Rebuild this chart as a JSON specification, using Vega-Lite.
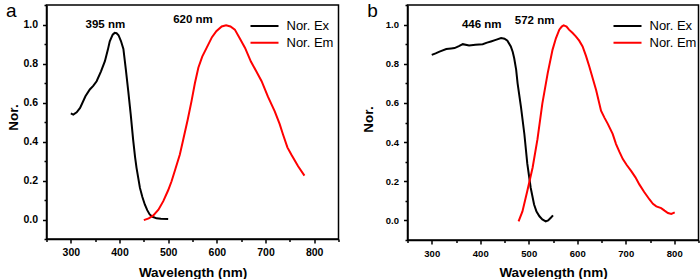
{
  "$schema": "https://vega.github.io/schema/vega-lite/v6.json",
  "padding": {"left": 4.5, "top": -1, "right": 0, "bottom": 0},
  "background": "white",
  "config": {
    "font": "Liberation Sans",
    "view": {"stroke": "black", "strokeWidth": 1.5},
    "axis": {
      "grid": false,
      "domainColor": "black",
      "domainWidth": 1.5,
      "tickColor": "black",
      "tickWidth": 1.5,
      "tickSize": 4,
      "labelOverlap": false,
      "labelColor": "black",
      "labelFont": "Liberation Sans",
      "labelFontWeight": "bold",
      "titleColor": "black",
      "titleFont": "Liberation Sans",
      "titleFontWeight": "bold",
      "titleFontSize": 13.5
    },
    "legend": {
      "title": null,
      "symbolType": "stroke",
      "symbolSize": 784,
      "symbolStrokeWidth": 2,
      "labelFont": "Liberation Sans",
      "labelFontSize": 13,
      "labelColor": "black",
      "labelOffset": 7,
      "clipHeight": 15,
      "rowPadding": 1.7,
      "padding": 0
    }
  },
  "datasets": {
    "a": [
      {"wl": 300, "v": 0.544, "s": "Nor. Ex"}, {"wl": 305, "v": 0.538, "s": "Nor. Ex"}, {"wl": 312, "v": 0.55, "s": "Nor. Ex"},
      {"wl": 319, "v": 0.572, "s": "Nor. Ex"}, {"wl": 330, "v": 0.632, "s": "Nor. Ex"}, {"wl": 339, "v": 0.667, "s": "Nor. Ex"},
      {"wl": 346, "v": 0.685, "s": "Nor. Ex"}, {"wl": 353, "v": 0.709, "s": "Nor. Ex"}, {"wl": 362, "v": 0.76, "s": "Nor. Ex"},
      {"wl": 370, "v": 0.812, "s": "Nor. Ex"}, {"wl": 376, "v": 0.87, "s": "Nor. Ex"}, {"wl": 380, "v": 0.914, "s": "Nor. Ex"},
      {"wl": 386, "v": 0.948, "s": "Nor. Ex"}, {"wl": 390, "v": 0.957, "s": "Nor. Ex"}, {"wl": 394, "v": 0.955, "s": "Nor. Ex"},
      {"wl": 398, "v": 0.945, "s": "Nor. Ex"}, {"wl": 403, "v": 0.915, "s": "Nor. Ex"}, {"wl": 408, "v": 0.875, "s": "Nor. Ex"},
      {"wl": 413, "v": 0.77, "s": "Nor. Ex"}, {"wl": 418, "v": 0.658, "s": "Nor. Ex"}, {"wl": 423, "v": 0.54, "s": "Nor. Ex"},
      {"wl": 428, "v": 0.41, "s": "Nor. Ex"}, {"wl": 432, "v": 0.32, "s": "Nor. Ex"}, {"wl": 435, "v": 0.265, "s": "Nor. Ex"},
      {"wl": 442, "v": 0.162, "s": "Nor. Ex"}, {"wl": 447, "v": 0.115, "s": "Nor. Ex"}, {"wl": 452, "v": 0.077, "s": "Nor. Ex"},
      {"wl": 457, "v": 0.048, "s": "Nor. Ex"}, {"wl": 462, "v": 0.026, "s": "Nor. Ex"}, {"wl": 468, "v": 0.014, "s": "Nor. Ex"},
      {"wl": 476, "v": 0.006, "s": "Nor. Ex"}, {"wl": 485, "v": 0.004, "s": "Nor. Ex"}, {"wl": 500, "v": 0.002, "s": "Nor. Ex"},
      {"wl": 450, "v": -0.003, "s": "Nor. Em"}, {"wl": 460, "v": 0.006, "s": "Nor. Em"}, {"wl": 469, "v": 0.02, "s": "Nor. Em"},
      {"wl": 480, "v": 0.05, "s": "Nor. Em"}, {"wl": 490, "v": 0.094, "s": "Nor. Em"}, {"wl": 500, "v": 0.15, "s": "Nor. Em"},
      {"wl": 507, "v": 0.196, "s": "Nor. Em"}, {"wl": 515, "v": 0.26, "s": "Nor. Em"}, {"wl": 524, "v": 0.333, "s": "Nor. Em"},
      {"wl": 531, "v": 0.41, "s": "Nor. Em"}, {"wl": 540, "v": 0.51, "s": "Nor. Em"}, {"wl": 548, "v": 0.607, "s": "Nor. Em"},
      {"wl": 555, "v": 0.7, "s": "Nor. Em"}, {"wl": 562, "v": 0.778, "s": "Nor. Em"}, {"wl": 570, "v": 0.835, "s": "Nor. Em"},
      {"wl": 579, "v": 0.88, "s": "Nor. Em"}, {"wl": 590, "v": 0.935, "s": "Nor. Em"}, {"wl": 599, "v": 0.966, "s": "Nor. Em"},
      {"wl": 610, "v": 0.99, "s": "Nor. Em"}, {"wl": 619, "v": 0.996, "s": "Nor. Em"}, {"wl": 628, "v": 0.99, "s": "Nor. Em"},
      {"wl": 637, "v": 0.974, "s": "Nor. Em"}, {"wl": 647, "v": 0.93, "s": "Nor. Em"}, {"wl": 658, "v": 0.88, "s": "Nor. Em"},
      {"wl": 670, "v": 0.81, "s": "Nor. Em"}, {"wl": 681, "v": 0.76, "s": "Nor. Em"}, {"wl": 692, "v": 0.709, "s": "Nor. Em"},
      {"wl": 705, "v": 0.63, "s": "Nor. Em"}, {"wl": 719, "v": 0.555, "s": "Nor. Em"}, {"wl": 729, "v": 0.49, "s": "Nor. Em"},
      {"wl": 736, "v": 0.436, "s": "Nor. Em"}, {"wl": 745, "v": 0.37, "s": "Nor. Em"}, {"wl": 753, "v": 0.333, "s": "Nor. Em"},
      {"wl": 767, "v": 0.273, "s": "Nor. Em"}, {"wl": 780, "v": 0.225, "s": "Nor. Em"}
    ],
    "b": [
      {"wl": 300, "v": 0.845, "s": "Nor. Ex"}, {"wl": 308, "v": 0.853, "s": "Nor. Ex"}, {"wl": 316, "v": 0.862, "s": "Nor. Ex"},
      {"wl": 330, "v": 0.875, "s": "Nor. Ex"}, {"wl": 340, "v": 0.878, "s": "Nor. Ex"}, {"wl": 347, "v": 0.88, "s": "Nor. Ex"},
      {"wl": 356, "v": 0.89, "s": "Nor. Ex"}, {"wl": 364, "v": 0.9, "s": "Nor. Ex"}, {"wl": 377, "v": 0.893, "s": "Nor. Ex"},
      {"wl": 390, "v": 0.897, "s": "Nor. Ex"}, {"wl": 405, "v": 0.9, "s": "Nor. Ex"}, {"wl": 414, "v": 0.908, "s": "Nor. Ex"},
      {"wl": 422, "v": 0.914, "s": "Nor. Ex"}, {"wl": 432, "v": 0.922, "s": "Nor. Ex"}, {"wl": 443, "v": 0.931, "s": "Nor. Ex"},
      {"wl": 450, "v": 0.928, "s": "Nor. Ex"}, {"wl": 456, "v": 0.918, "s": "Nor. Ex"}, {"wl": 463, "v": 0.888, "s": "Nor. Ex"},
      {"wl": 467, "v": 0.86, "s": "Nor. Ex"}, {"wl": 470, "v": 0.828, "s": "Nor. Ex"}, {"wl": 474, "v": 0.77, "s": "Nor. Ex"},
      {"wl": 477, "v": 0.7, "s": "Nor. Ex"}, {"wl": 484, "v": 0.579, "s": "Nor. Ex"}, {"wl": 491, "v": 0.44, "s": "Nor. Ex"},
      {"wl": 497, "v": 0.29, "s": "Nor. Ex"}, {"wl": 504, "v": 0.167, "s": "Nor. Ex"}, {"wl": 511, "v": 0.081, "s": "Nor. Ex"},
      {"wl": 516, "v": 0.045, "s": "Nor. Ex"}, {"wl": 522, "v": 0.021, "s": "Nor. Ex"}, {"wl": 528, "v": 0.005, "s": "Nor. Ex"},
      {"wl": 535, "v": -0.005, "s": "Nor. Ex"}, {"wl": 540, "v": 0.0, "s": "Nor. Ex"}, {"wl": 546, "v": 0.015, "s": "Nor. Ex"},
      {"wl": 550, "v": 0.026, "s": "Nor. Ex"},
      {"wl": 479, "v": -0.005, "s": "Nor. Em"}, {"wl": 487, "v": 0.046, "s": "Nor. Em"}, {"wl": 497, "v": 0.15, "s": "Nor. Em"},
      {"wl": 508, "v": 0.27, "s": "Nor. Em"}, {"wl": 518, "v": 0.415, "s": "Nor. Em"}, {"wl": 528, "v": 0.596, "s": "Nor. Em"},
      {"wl": 539, "v": 0.751, "s": "Nor. Em"}, {"wl": 549, "v": 0.871, "s": "Nor. Em"}, {"wl": 556, "v": 0.93, "s": "Nor. Em"},
      {"wl": 563, "v": 0.974, "s": "Nor. Em"}, {"wl": 568, "v": 0.99, "s": "Nor. Em"}, {"wl": 572, "v": 0.996, "s": "Nor. Em"},
      {"wl": 578, "v": 0.99, "s": "Nor. Em"}, {"wl": 583, "v": 0.974, "s": "Nor. Em"}, {"wl": 590, "v": 0.958, "s": "Nor. Em"},
      {"wl": 597, "v": 0.94, "s": "Nor. Em"}, {"wl": 604, "v": 0.918, "s": "Nor. Em"}, {"wl": 611, "v": 0.888, "s": "Nor. Em"},
      {"wl": 618, "v": 0.84, "s": "Nor. Em"}, {"wl": 625, "v": 0.785, "s": "Nor. Em"}, {"wl": 632, "v": 0.725, "s": "Nor. Em"},
      {"wl": 639, "v": 0.665, "s": "Nor. Em"}, {"wl": 649, "v": 0.56, "s": "Nor. Em"}, {"wl": 656, "v": 0.525, "s": "Nor. Em"},
      {"wl": 663, "v": 0.493, "s": "Nor. Em"}, {"wl": 673, "v": 0.442, "s": "Nor. Em"}, {"wl": 680, "v": 0.39, "s": "Nor. Em"},
      {"wl": 687, "v": 0.35, "s": "Nor. Em"}, {"wl": 694, "v": 0.313, "s": "Nor. Em"}, {"wl": 702, "v": 0.283, "s": "Nor. Em"},
      {"wl": 711, "v": 0.253, "s": "Nor. Em"}, {"wl": 720, "v": 0.22, "s": "Nor. Em"}, {"wl": 728, "v": 0.184, "s": "Nor. Em"},
      {"wl": 738, "v": 0.145, "s": "Nor. Em"}, {"wl": 749, "v": 0.107, "s": "Nor. Em"}, {"wl": 756, "v": 0.085, "s": "Nor. Em"},
      {"wl": 763, "v": 0.072, "s": "Nor. Em"}, {"wl": 773, "v": 0.063, "s": "Nor. Em"}, {"wl": 780, "v": 0.05, "s": "Nor. Em"},
      {"wl": 787, "v": 0.038, "s": "Nor. Em"}, {"wl": 794, "v": 0.033, "s": "Nor. Em"}, {"wl": 801, "v": 0.041, "s": "Nor. Em"}
    ],
    "notesA": [
      {"wl": 371, "v": 1.0, "t": "395 nm"},
      {"wl": 551, "v": 1.023, "t": "620 nm"}
    ],
    "notesB": [
      {"wl": 403, "v": 1.0, "t": "446 nm"},
      {"wl": 512, "v": 1.017, "t": "572 nm"}
    ],
    "letterA": [{"wl": 177.5, "v": 1.041, "t": "a"}],
    "letterB": [{"wl": 178, "v": 1.04, "t": "b"}]
  },
  "spacing": 20,
  "resolve": {
    "scale": {"x": "independent", "y": "independent", "color": "independent"},
    "legend": {"color": "independent"}
  },
  "hconcat": [
    {
      "width": 292,
      "height": 234,
      "encoding": {
        "x": {
          "field": "wl", "type": "quantitative",
          "scale": {"domain": [250, 850], "nice": false, "zero": false},
          "axis": {
            "title": "Wavelength (nm)",
            "values": [250, 300, 350, 400, 450, 500, 550, 600, 650, 700, 750, 800, 850],
            "labelExpr": "datum.value % 100 == 0 && datum.value >= 300 && datum.value <= 800 ? datum.label : ''",
            "tickSize": {"condition": {"test": "datum.value % 100 == 0", "value": 4}, "value": 2.5},
            "labelPadding": 4,
            "labelFontSize": 10.5,
            "titlePadding": 8
          }
        },
        "y": {
          "field": "v", "type": "quantitative",
          "scale": {"domain": [-0.1, 1.1], "nice": false, "zero": false},
          "axis": {
            "title": "Nor.",
            "titleY": 112,
            "format": ".1f",
            "values": [-0.1, 0, 0.1, 0.2, 0.3, 0.4, 0.5, 0.6, 0.7, 0.8, 0.9, 1.0, 1.1],
            "labelExpr": "round(datum.value * 10) % 2 == 0 && datum.value > -0.05 && datum.value < 1.05 ? datum.label : ''",
            "tickSize": {"condition": {"test": "round(datum.value * 10) % 2 == 0", "value": 4}, "value": 2.5},
            "labelPadding": 5,
            "labelFontSize": 10.5,
            "titlePadding": 2
          }
        }
      },
      "layer": [
        {
          "data": {"name": "a"},
          "mark": {"type": "line", "strokeWidth": 2},
          "encoding": {
            "color": {
              "field": "s", "type": "nominal",
              "scale": {"domain": ["Nor. Ex", "Nor. Em"], "range": ["#000000", "#ff0000"]},
              "legend": {"orient": "none", "legendX": 203, "legendY": 13.5}
            }
          }
        },
        {
          "data": {"name": "notesA"},
          "mark": {"type": "text", "font": "Liberation Sans", "fontWeight": "bold", "fontSize": 11.5, "baseline": "middle", "color": "black"},
          "encoding": {"text": {"field": "t"}}
        },
        {
          "data": {"name": "letterA"},
          "mark": {"type": "text", "font": "Liberation Sans", "fontSize": 19, "baseline": "alphabetic", "color": "black"},
          "encoding": {"text": {"field": "t"}}
        }
      ]
    },
    {
      "width": 291,
      "height": 235,
      "encoding": {
        "x": {
          "field": "wl", "type": "quantitative",
          "scale": {"domain": [250, 850], "nice": false, "zero": false},
          "axis": {
            "title": "Wavelength (nm)",
            "values": [250, 300, 350, 400, 450, 500, 550, 600, 650, 700, 750, 800, 850],
            "labelExpr": "datum.value % 100 == 0 && datum.value >= 300 && datum.value <= 800 ? datum.label : ''",
            "tickSize": {"condition": {"test": "datum.value % 100 == 0", "value": 4}, "value": 2.5},
            "labelPadding": 4,
            "labelFontSize": 9.5,
            "titlePadding": 8
          }
        },
        "y": {
          "field": "v", "type": "quantitative",
          "scale": {"domain": [-0.1, 1.1], "nice": false, "zero": false},
          "axis": {
            "title": "Nor.",
            "titleY": 114,
            "format": ".1f",
            "values": [-0.1, 0, 0.1, 0.2, 0.3, 0.4, 0.5, 0.6, 0.7, 0.8, 0.9, 1.0, 1.1],
            "labelExpr": "round(datum.value * 10) % 2 == 0 && datum.value > -0.05 && datum.value < 1.05 ? datum.label : ''",
            "tickSize": {"condition": {"test": "round(datum.value * 10) % 2 == 0", "value": 4}, "value": 2.5},
            "labelPadding": 5,
            "labelFontSize": 9.5,
            "titlePadding": 10
          }
        }
      },
      "layer": [
        {
          "data": {"name": "b"},
          "mark": {"type": "line", "strokeWidth": 2},
          "encoding": {
            "color": {
              "field": "s", "type": "nominal",
              "scale": {"domain": ["Nor. Ex", "Nor. Em"], "range": ["#000000", "#ff0000"]},
              "legend": {"orient": "none", "legendX": 205, "legendY": 13.5}
            }
          }
        },
        {
          "data": {"name": "notesB"},
          "mark": {"type": "text", "font": "Liberation Sans", "fontWeight": "bold", "fontSize": 11.5, "baseline": "middle", "color": "black"},
          "encoding": {"text": {"field": "t"}}
        },
        {
          "data": {"name": "letterB"},
          "mark": {"type": "text", "font": "Liberation Sans", "fontSize": 19, "baseline": "alphabetic", "color": "black"},
          "encoding": {"text": {"field": "t"}}
        }
      ]
    }
  ]
}
